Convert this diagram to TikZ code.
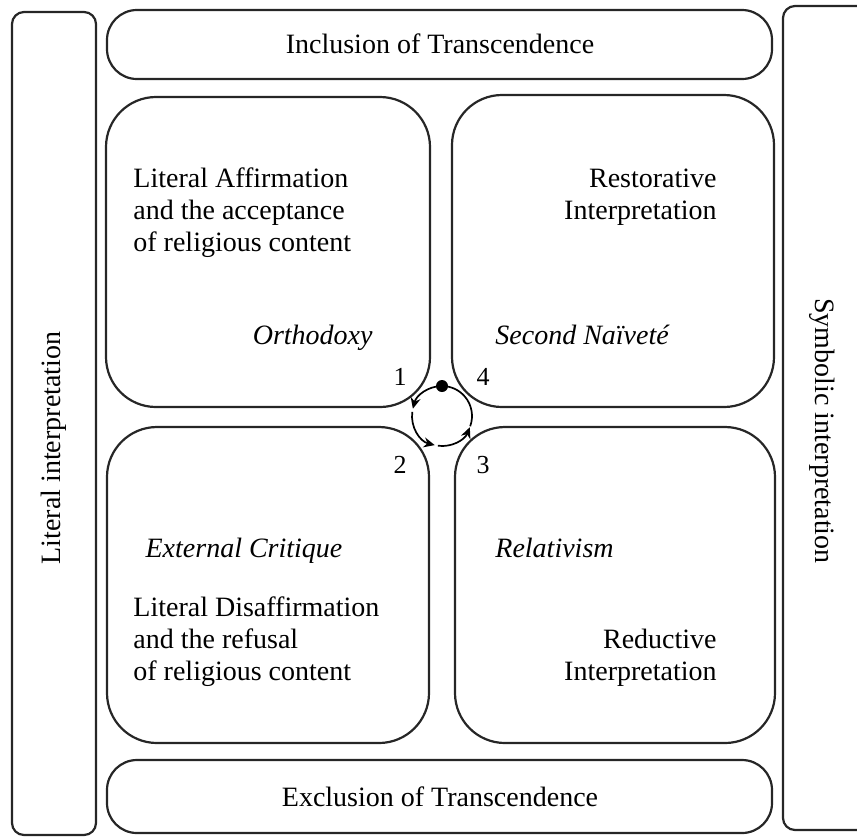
\documentclass[tikz,border=0pt]{standalone}
\usepackage{fontspec}
\setmainfont{Liberation Serif}
\usetikzlibrary{arrows.meta}
\begin{document}
\begin{tikzpicture}[x=0.5pt,y=-0.5pt,
  frame/.style={draw=black!85,line width=1.1pt},
  txt/.style={inner sep=0pt,font=\fontsize{14}{16}\selectfont},
  itxt/.style={inner sep=0pt,font=\fontsize{14}{16}\selectfont\itshape},
  num/.style={inner sep=0pt,font=\fontsize{13}{15}\selectfont},
  cyc/.style={line width=0.85pt},
  tipd/.style={-{Stealth[length=5.5pt,width=5pt]}}
]
\useasboundingbox (0,0) rectangle (857,837);
\clip (0,0) rectangle (857,837);
% side and top/bottom frames
\draw[frame,rounded corners=6pt] (12,12) rectangle (96,835);
\draw[frame,rounded corners=6pt] (783,6) rectangle (900,830);
\draw[frame,rounded corners=15pt] (107,10) rectangle (772,79);
\draw[frame,rounded corners=15pt] (107,760) rectangle (772,833);
% quadrants
\draw[frame,rounded corners=25pt] (106,97) rectangle (430,407);
\draw[frame,rounded corners=25pt] (452,95) rectangle (774,407);
\draw[frame,rounded corners=25pt] (107,427) rectangle (429,743);
\draw[frame,rounded corners=25pt] (455,427) rectangle (775,743);
% frame labels
\node[txt] (incl) at (440,44) {Inclusion of Transcendence};
\node[txt] (excl) at (440,797) {Exclusion of Transcendence};
\node[txt,rotate=90] (litint) at (54,448) {Literal interpretation};
\node[txt,rotate=-90] (symint) at (822,431) {Symbolic interpretation};
% top-left
\node[txt,anchor=base west] (tl1) at (133,187) {Literal Affirmation};
\node[txt,anchor=base west] (tl2) at (133,219) {and the acceptance};
\node[txt,anchor=base west] (tl3) at (133,251) {of religious content};
\node[itxt,anchor=base east] (orth) at (373,344) {Orthodoxy};
% top-right
\node[txt,anchor=base east] (tr1) at (717,187) {Restorative};
\node[txt,anchor=base east] (tr2) at (717,219) {Interpretation};
\node[itxt,anchor=base west] (sec) at (495,344) {Second Naïveté};
% bottom-left
\node[itxt,anchor=base] (ext) at (244,557) {External Critique};
\node[txt,anchor=base west] (bl1) at (133,616) {Literal Disaffirmation};
\node[txt,anchor=base west] (bl2) at (133,648) {and the refusal};
\node[txt,anchor=base west] (bl3) at (133,680) {of religious content};
% bottom-right
\node[itxt,anchor=base west] (rel) at (495,557) {Relativism};
\node[txt,anchor=base east] (br1) at (717,648) {Reductive};
\node[txt,anchor=base east] (br2) at (717,680) {Interpretation};
% numbers
\node[num] (n1) at (400,377) {1};
\node[num] (n4) at (483,377) {4};
\node[num] (n2) at (400,465) {2};
\node[num] (n3) at (483,465) {3};
% cycle
\coordinate (c) at (442,416);
\draw[cyc,tipd] ([shift={(-90:30)}]c) arc[start angle=-90,end angle=-166,radius=30];
\draw[cyc,tipd] ([shift={(-172:30)}]c) arc[start angle=-172,end angle=-256,radius=30];
\draw[cyc,tipd] ([shift={(-262:30)}]c) arc[start angle=-262,end angle=-338,radius=30];
\draw[cyc] ([shift={(-340:30)}]c) arc[start angle=-340,end angle=-450,radius=30];
\fill ([shift={(-90:30)}]c) circle[radius=6];
\end{tikzpicture}
\end{document}
